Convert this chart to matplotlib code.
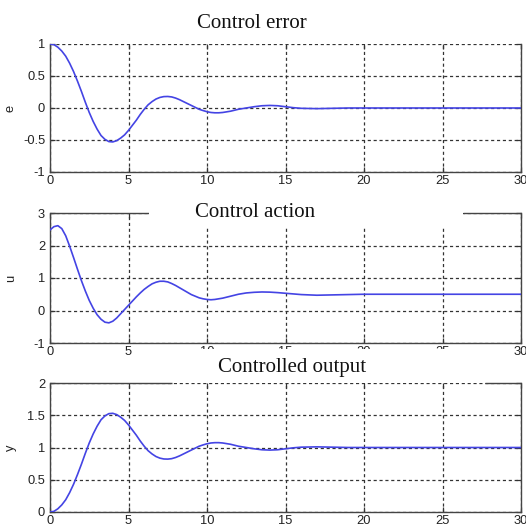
import matplotlib
matplotlib.use("Agg")
import matplotlib.pyplot as plt
from matplotlib.patches import Rectangle

# ---- data ----
t = [0.0, 0.25, 0.5, 0.75, 1.0, 1.25, 1.5, 1.75, 2.0, 2.25, 2.5, 2.75,
     3.0, 3.25, 3.5, 3.75, 4.0, 4.25, 4.5, 4.75, 5.0, 5.25, 5.5, 5.75,
     6.0, 6.25, 6.5, 6.75, 7.0, 7.25, 7.5, 7.75, 8.0, 8.25, 8.5, 8.75,
     9.0, 9.25, 9.5, 9.75, 10.0, 10.25, 10.5, 10.75, 11.0, 11.25, 11.5, 11.75,
     12.0, 12.5, 13.0, 13.5, 14.0, 14.5, 15.0, 15.5, 16.0, 17.0, 18.0, 19.0,
     20.0, 22.0, 24.0, 26.0, 28.0, 30.0]
e = [1.00, 0.99, 0.95, 0.89, 0.81, 0.70, 0.57, 0.42, 0.26, 0.09, -0.07, -0.21,
     -0.33, -0.43, -0.49, -0.525, -0.53, -0.51, -0.47, -0.42, -0.35, -0.27, -0.19, -0.10,
     -0.02, 0.05, 0.10, 0.14, 0.165, 0.178, 0.18, 0.173, 0.155, 0.13, 0.10, 0.07,
     0.04, 0.01, -0.02, -0.04, -0.058, -0.07, -0.075, -0.075, -0.07, -0.06, -0.05, -0.035,
     -0.02, 0.00, 0.02, 0.035, 0.04, 0.035, 0.02, 0.005, -0.005, -0.01, -0.005, 0.0,
     0.0, 0.0, 0.0, 0.0, 0.0, 0.0]
u = [2.48, 2.58, 2.61, 2.52, 2.30, 1.98, 1.63, 1.27, 0.92, 0.60, 0.31, 0.07,
     -0.13, -0.27, -0.36, -0.38, -0.33, -0.23, -0.10, 0.03, 0.16, 0.29, 0.42, 0.54,
     0.65, 0.74, 0.82, 0.87, 0.90, 0.90, 0.88, 0.83, 0.77, 0.70, 0.63, 0.56,
     0.49, 0.44, 0.39, 0.36, 0.34, 0.33, 0.34, 0.36, 0.38, 0.41, 0.44, 0.47,
     0.50, 0.54, 0.56, 0.57, 0.565, 0.55, 0.53, 0.51, 0.49, 0.47, 0.48, 0.49,
     0.50, 0.50, 0.50, 0.50, 0.50, 0.50]
y = [0.00, 0.01, 0.05, 0.11, 0.19, 0.30, 0.43, 0.58, 0.74, 0.91, 1.07, 1.21,
     1.33, 1.43, 1.49, 1.525, 1.53, 1.51, 1.47, 1.42, 1.35, 1.27, 1.19, 1.10,
     1.02, 0.95, 0.90, 0.86, 0.835, 0.822, 0.82, 0.827, 0.845, 0.87, 0.90, 0.93,
     0.96, 0.99, 1.02, 1.04, 1.058, 1.07, 1.075, 1.075, 1.07, 1.06, 1.05, 1.035,
     1.02, 1.00, 0.98, 0.965, 0.96, 0.965, 0.98, 0.995, 1.005, 1.01, 1.005, 1.0,
     1.0, 1.0, 1.0, 1.0, 1.0, 1.0]

titles = ["Control error", "Control action", "Controlled output"]
ylabels = ["e", "u", "y"]
series = [e, u, y]
xticks = [0, 5, 10, 15, 20, 25, 30]
yticks = [[-1, -0.5, 0, 0.5, 1], [-1, 0, 1, 2, 3], [0, 0.5, 1, 1.5, 2]]
ylims = [(-1, 1), (-1, 3), (0, 2)]

# ---- layout ----
W, H = 526, 527
fig = plt.figure(figsize=(W / 100, H / 100), dpi=100)
fig.patch.set_facecolor("white")

def fx(px):
    return px / W

def fy(px):
    return 1 - px / H

axes_px = [(44, 172), (213, 343), (383, 512)]  # top, bottom in pixels
left_px, right_px = 50, 521
top_segments = [[], [(0, 0.210), (0.877, 1)], [(0, 0.259), (0.924, 1)]]

tick_font = dict(family="Liberation Sans", size=9.3)
line_color = "#4444e4"

for i, (top, bot) in enumerate(axes_px):
    ax = fig.add_axes([fx(left_px), fy(bot), (right_px - left_px) / W, (bot - top) / H])
    ax.plot(t, series[i], color=line_color, lw=1.2, zorder=3)
    ax.set_xlim(0, 30)
    ax.set_ylim(*ylims[i])
    ax.set_xticks(xticks)
    ax.set_yticks(yticks[i])
    ax.set_xticklabels([str(v) for v in xticks], fontdict=tick_font, color="#222222")
    ax.set_yticklabels([("%g" % v) for v in yticks[i]], fontdict=tick_font, color="#222222")
    ax.tick_params(direction="in", length=3.5, width=0.9, color="#333333",
                   top=True, right=True, pad=2.5)
    ax.tick_params(axis="y", pad=3.5)
    ax.grid(True, color="#333333", lw=0.9, linestyle=(0, (2.5, 2.2)))
    for s in ["left", "right", "bottom"]:
        ax.spines[s].set_color("#444444")
        ax.spines[s].set_linewidth(1.0)
    ax.spines["top"].set_visible(False)
    for (a, b) in top_segments[i]:
        ax.plot([a, b], [1, 1], transform=ax.transAxes, color="#444444", lw=1.0,
                clip_on=False, zorder=4, solid_capstyle="butt")
    fig.text(fx(11), fy((top + bot) / 2), ylabels[i], rotation=90, ha="center",
             va="center", color="#222222", **tick_font)

# white areas behind the titles of the 2nd and 3rd panels
fig.add_artist(Rectangle((fx(149), fy(226)), 314 / W, 33 / H, transform=fig.transFigure,
                         facecolor="white", edgecolor="none", zorder=5))
fig.add_artist(Rectangle((fx(172), fy(382)), 313 / W, 33 / H, transform=fig.transFigure,
                         facecolor="white", edgecolor="none", zorder=5))

title_pos = [(252, 28), (255, 217), (292, 372)]
for txt, (cx, by) in zip(titles, title_pos):
    fig.text(fx(cx), fy(by), txt, ha="center", va="baseline",
             family="Liberation Serif", size=15, color="#111111", zorder=6)

fig.savefig("out.png", dpi=100, facecolor="white")
